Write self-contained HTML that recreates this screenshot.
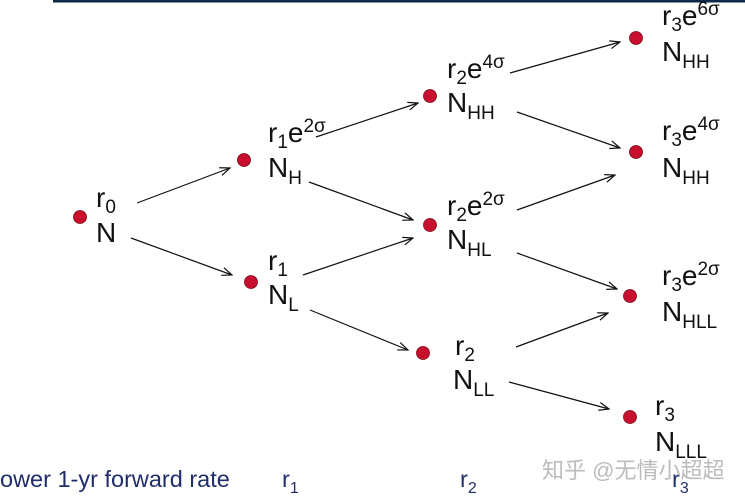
<!DOCTYPE html>
<html><head><meta charset="utf-8"><style>
body{margin:0;background:#fff;width:745px;height:502px;overflow:hidden}
svg{display:block}
text{font-family:"Liberation Sans",Arial,sans-serif;fill:#111}
.m{font-size:28px}.s{font-size:19px}
</style></head><body>
<svg width="745" height="502" viewBox="0 0 745 502">
<defs><marker id="a" markerWidth="12" markerHeight="10" refX="11" refY="5" orient="auto" markerUnits="userSpaceOnUse"><path d="M1,1 L11,5 L1,9" fill="none" stroke="#111" stroke-width="1.2"/></marker></defs>
<rect x="53" y="0" width="692" height="2.5" fill="#0d2a4a"/>
<g stroke="#111" stroke-width="1.2" marker-end="url(#a)">
<line x1="137" y1="203" x2="230" y2="168"/>
<line x1="131" y1="238" x2="232" y2="275"/>
<line x1="316" y1="137" x2="418" y2="103"/>
<line x1="309" y1="182" x2="413" y2="220"/>
<line x1="303" y1="275" x2="413" y2="238"/>
<line x1="310" y1="310" x2="408" y2="350"/>
<line x1="510" y1="73" x2="620" y2="42"/>
<line x1="517" y1="112" x2="620" y2="148"/>
<line x1="517" y1="210" x2="615" y2="175"/>
<line x1="517" y1="253" x2="617" y2="289"/>
<line x1="516" y1="347" x2="608" y2="313"/>
<line x1="509" y1="382" x2="609" y2="409"/>
</g>
<g fill="#c8102e" stroke="#7a0a18" stroke-width="0.8">
<circle cx="80" cy="217" r="6.5"/><circle cx="244" cy="160" r="6.5"/><circle cx="251" cy="282" r="6.5"/>
<circle cx="430" cy="96" r="6.5"/><circle cx="430" cy="225" r="6.5"/><circle cx="423" cy="353" r="6.5"/>
<circle cx="636" cy="38" r="6.5"/><circle cx="636" cy="152" r="6.5"/><circle cx="630" cy="296" r="6.5"/><circle cx="630" cy="417" r="6.5"/>
</g>
<text class="m" x="96" y="207">r<tspan class="s" dy="6">0</tspan></text>
<text class="m" x="96" y="242">N</text>
<text class="m" x="268" y="142">r<tspan class="s" dy="6">1</tspan><tspan dy="-6">e</tspan><tspan class="s" dy="-10">2σ</tspan></text>
<text class="m" x="268" y="177">N<tspan class="s" dy="7">H</tspan></text>
<text class="m" x="268" y="270">r<tspan class="s" dy="6">1</tspan></text>
<text class="m" x="268" y="304">N<tspan class="s" dy="7">L</tspan></text>
<text class="m" x="447" y="78">r<tspan class="s" dy="6">2</tspan><tspan dy="-6">e</tspan><tspan class="s" dy="-10">4σ</tspan></text>
<text class="m" x="447" y="112">N<tspan class="s" dy="7">HH</tspan></text>
<text class="m" x="447" y="215">r<tspan class="s" dy="6">2</tspan><tspan dy="-6">e</tspan><tspan class="s" dy="-10">2σ</tspan></text>
<text class="m" x="447" y="249">N<tspan class="s" dy="7">HL</tspan></text>
<text class="m" x="455" y="355">r<tspan class="s" dy="6">2</tspan></text>
<text class="m" x="453" y="389">N<tspan class="s" dy="7">LL</tspan></text>
<text class="m" x="662" y="25">r<tspan class="s" dy="6">3</tspan><tspan dy="-6">e</tspan><tspan class="s" dy="-10">6σ</tspan></text>
<text class="m" x="662" y="61">N<tspan class="s" dy="7">HH</tspan></text>
<text class="m" x="662" y="140">r<tspan class="s" dy="6">3</tspan><tspan dy="-6">e</tspan><tspan class="s" dy="-10">4σ</tspan></text>
<text class="m" x="662" y="177">N<tspan class="s" dy="7">HH</tspan></text>
<text class="m" x="662" y="285">r<tspan class="s" dy="6">3</tspan><tspan dy="-6">e</tspan><tspan class="s" dy="-10">2σ</tspan></text>
<text class="m" x="662" y="321">N<tspan class="s" dy="7">HLL</tspan></text>
<text class="m" x="655" y="415">r<tspan class="s" dy="6">3</tspan></text>
<text class="m" x="655" y="451">N<tspan class="s" dy="7">LLL</tspan></text>
<text x="0" y="487" font-size="23.5" style="fill:#1f2d6b">ower 1-yr forward rate</text>
<text x="282" y="487" font-size="23.5" style="fill:#1f2d6b">r<tspan font-size="16" dy="6">1</tspan></text>
<text x="460" y="487" font-size="23.5" style="fill:#1f2d6b">r<tspan font-size="16" dy="6">2</tspan></text>
<text x="672" y="487" font-size="23.5" style="fill:#1f2d6b">r<tspan font-size="16" dy="6">3</tspan></text>
<text x="542" y="478" font-size="22" style="fill:#bbb;font-family:'Liberation Sans','Noto Sans CJK SC',sans-serif">知乎 @无情小超超</text>
</svg>
</body></html>
